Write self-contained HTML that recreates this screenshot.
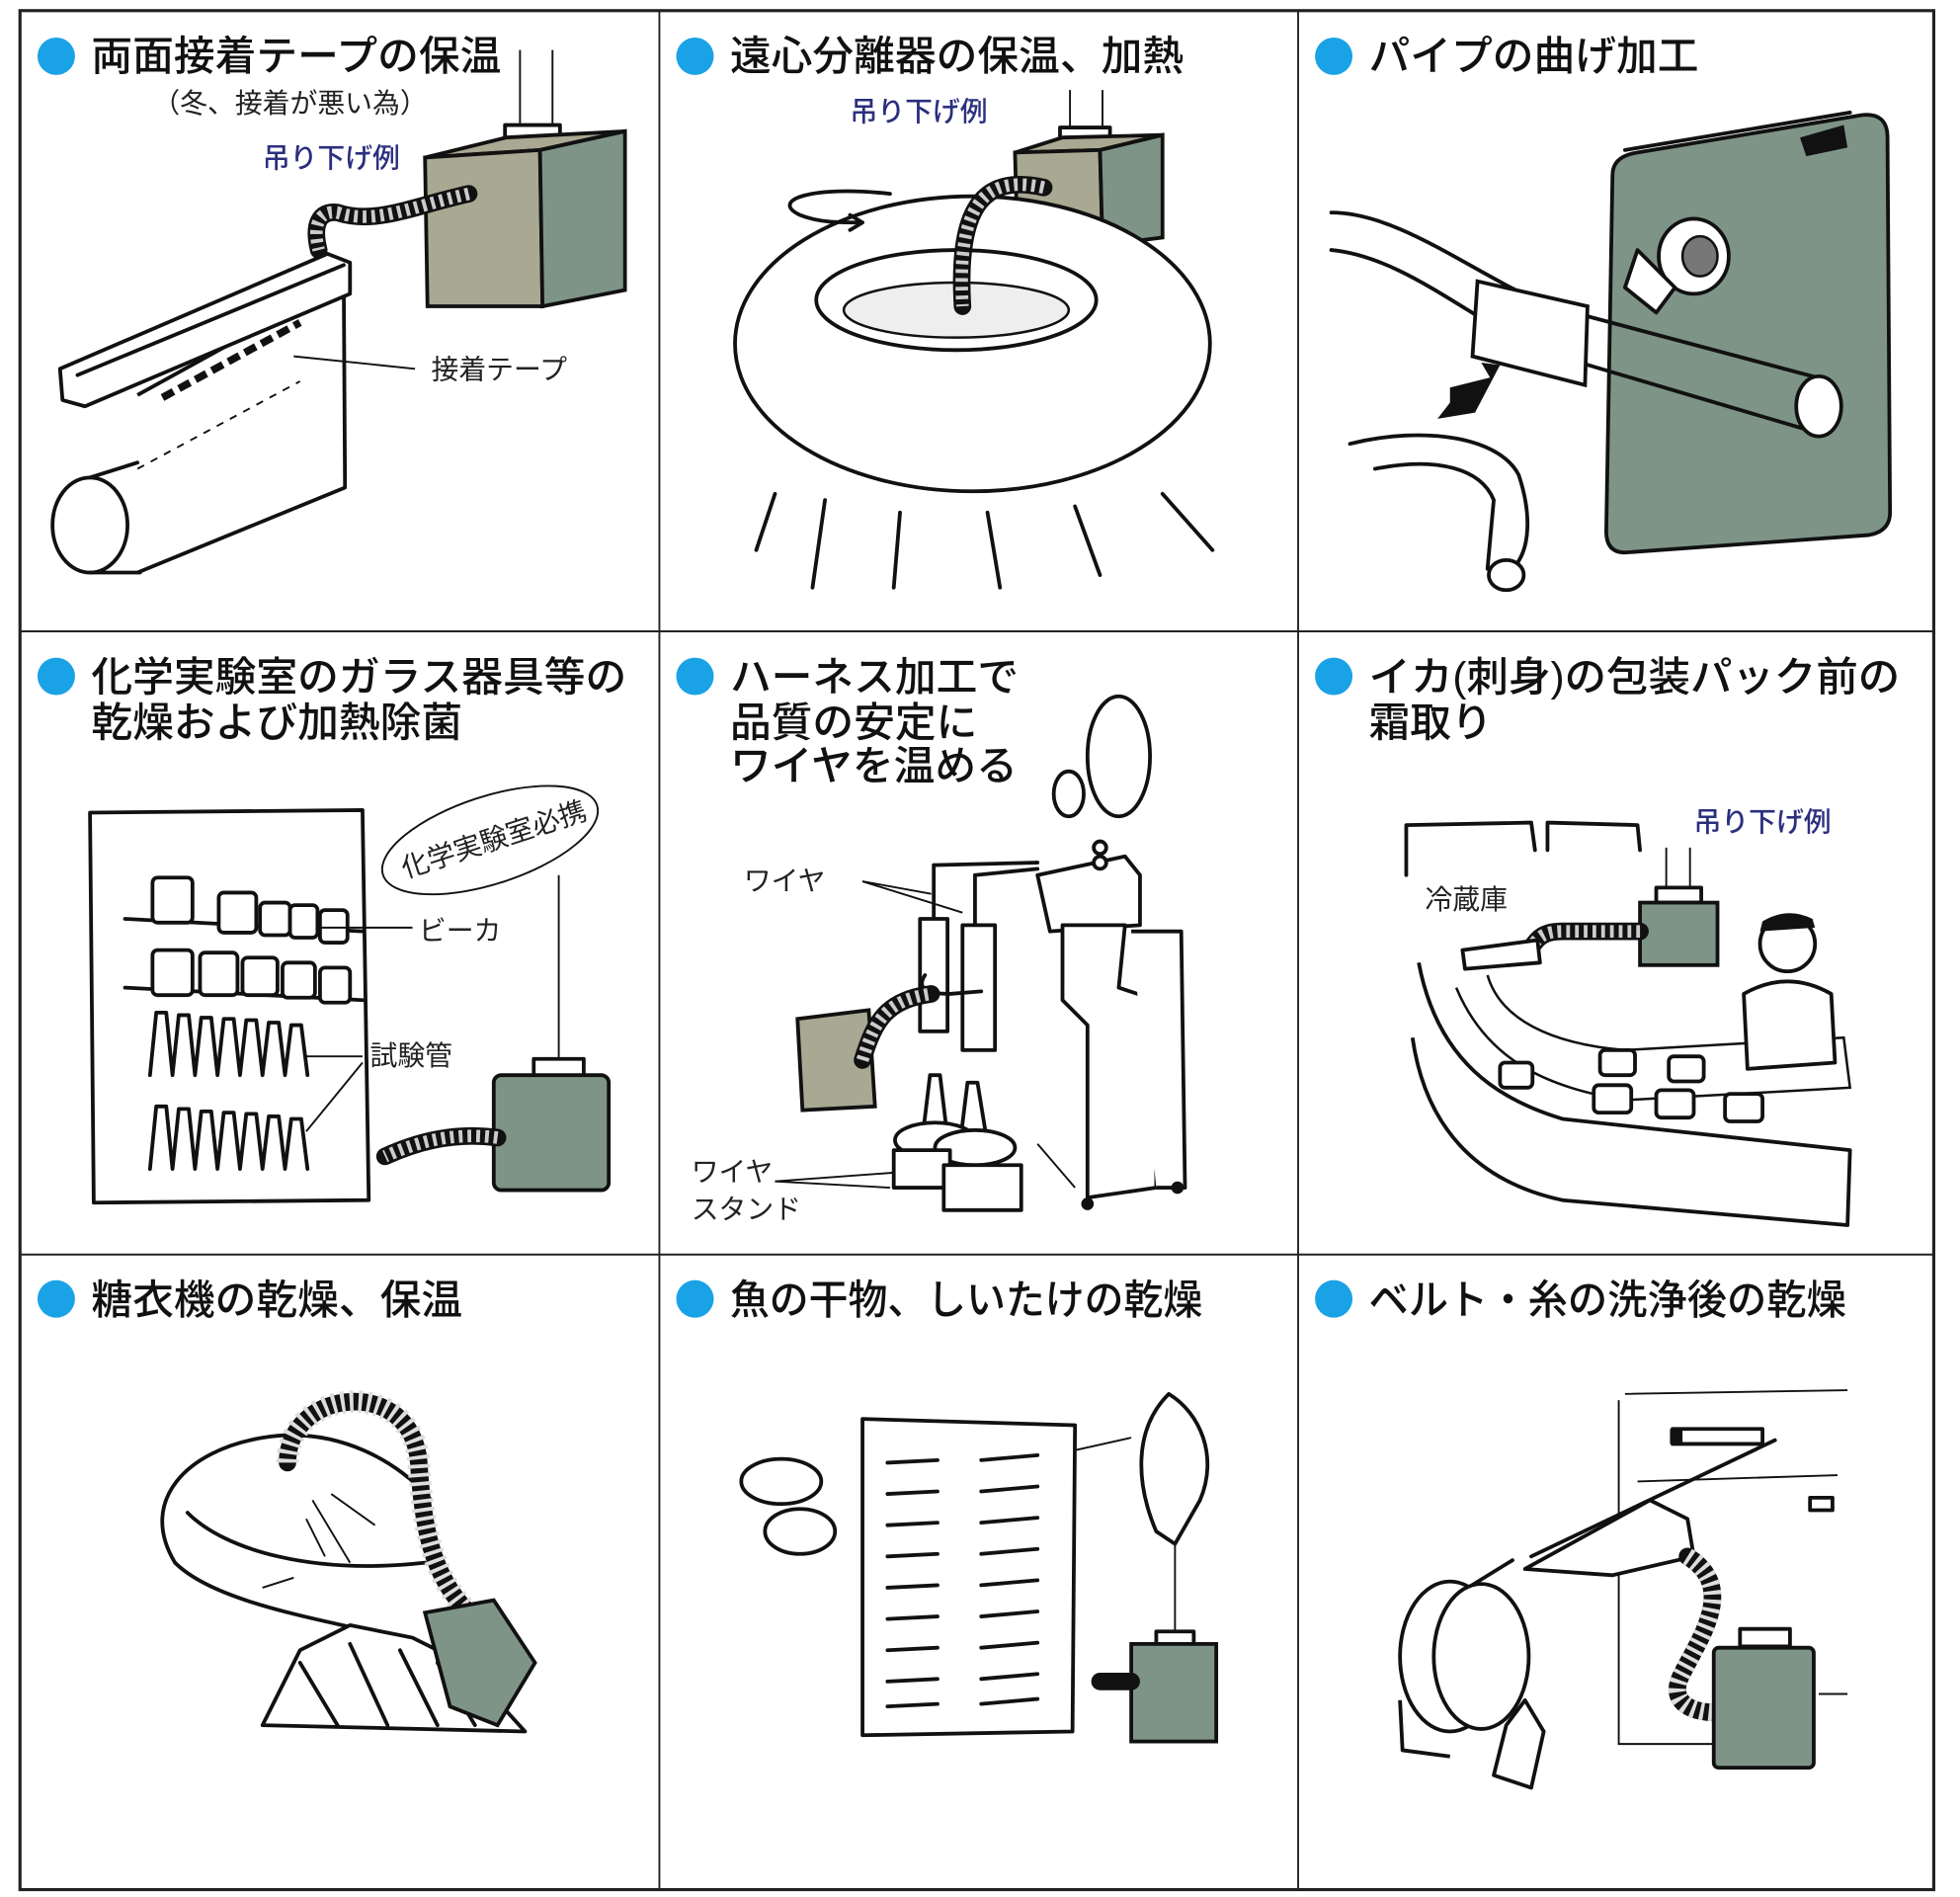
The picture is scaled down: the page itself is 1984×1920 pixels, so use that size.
<!DOCTYPE html>
<html><head><meta charset="utf-8"><style>
html,body{margin:0;padding:0;background:#fff;}
svg{display:block;}
text{font-family:"Liberation Sans","Noto Sans CJK JP",sans-serif;}
.t{font-size:33px;fill:#111;font-weight:500;}
.s{font-size:22px;fill:#222;}
.b{font-size:22px;fill:#2b2f7e;font-weight:500;}
.k{stroke:#111;stroke-width:3;fill:none;stroke-linejoin:round;stroke-linecap:round;}
.kw{stroke:#111;stroke-width:3;fill:#fff;stroke-linejoin:round;}
.g{fill:#7e9487;stroke:#111;stroke-width:3;}
.gl{fill:#a9a892;stroke:#111;stroke-width:3;}
.h{stroke:#111;stroke-width:14;fill:none;stroke-linecap:round;}
.hi{stroke:#ccc;stroke-width:10;fill:none;stroke-dasharray:3 4;stroke-linecap:butt;}
.th{stroke:#111;stroke-width:1.5;fill:none;}
</style></head><body>
<svg width="1984" height="1920" viewBox="0 0 1568 1517.4" xmlns="http://www.w3.org/2000/svg">
<rect x="0" y="0" width="1568" height="1518" fill="#fff"/>
<rect x="16" y="8.5" width="1531" height="1503" fill="none" stroke="#222" stroke-width="2.5"/>
<line x1="527.5" y1="8" x2="527.5" y2="1512" stroke="#222" stroke-width="1.5"/>
<line x1="1038.5" y1="8" x2="1038.5" y2="1512" stroke="#222" stroke-width="1.5"/>
<line x1="16" y1="505" x2="1547" y2="505" stroke="#222" stroke-width="1.5"/>
<line x1="16" y1="1003.5" x2="1547" y2="1003.5" stroke="#222" stroke-width="1.5"/>

<g fill="#1aa2e6">
<circle cx="45" cy="45" r="15"/><circle cx="556" cy="45" r="15"/><circle cx="1067" cy="45" r="15"/>
<circle cx="45" cy="541" r="15"/><circle cx="556" cy="541" r="15"/><circle cx="1067" cy="541" r="15"/>
<circle cx="45" cy="1039" r="15"/><circle cx="556" cy="1039" r="15"/><circle cx="1067" cy="1039" r="15"/>
</g>
<text class="t" x="73" y="56">両面接着テープの保温</text>
<text class="s" x="122" y="90">（冬、接着が悪い為）</text>
<text class="t" x="584" y="56">遠心分離器の保温、加熱</text>
<text class="t" x="1095" y="56">パイプの曲げ加工</text>
<text class="t" x="73" y="553">化学実験室のガラス器具等の</text>
<text class="t" x="73" y="589">乾燥および加熱除菌</text>
<text class="t" x="584" y="553">ハーネス加工で</text>
<text class="t" x="584" y="589">品質の安定に</text>
<text class="t" x="584" y="624">ワイヤを温める</text>
<text class="t" x="1095" y="553" textLength="425" lengthAdjust="spacingAndGlyphs">イカ(刺身)の包装パック前の</text>
<text class="t" x="1095" y="589">霜取り</text>
<text class="t" x="73" y="1051">糖衣機の乾燥、保温</text>
<text class="t" x="584" y="1051" textLength="378" lengthAdjust="spacingAndGlyphs">魚の干物、しいたけの乾燥</text>
<text class="t" x="1095" y="1051" textLength="382" lengthAdjust="spacingAndGlyphs">ベルト・糸の洗浄後の乾燥</text>

<!-- cell 1 -->
<text class="b" x="210" y="134">吊り下げ例</text>
<line x1="416" y1="40" x2="416" y2="102" class="th" stroke-width="2"/><line x1="442" y1="40" x2="442" y2="102" class="th" stroke-width="2"/>
<rect x="404" y="100" width="44" height="12" class="kw" stroke-width="2"/>
<polygon points="340,126 405,110 500,105 432,120" class="gl"/>
<polygon points="340,126 432,120 434,245 342,245" class="gl"/>
<polygon points="432,120 500,105 500,232 434,245" class="g"/>
<path d="M375,155 C330,165 300,180 270,170 C255,168 250,180 255,200" class="h"/>
<path d="M375,155 C330,165 300,180 270,170 C255,168 250,180 255,200" class="hi"/>
<path d="M110,316 L275,225 L276,390 L110,458" class="kw"/>
<polygon points="48,295 262,203 280,210 280,235 68,325 50,320" class="kw"/>
<line x1="62" y1="300" x2="275" y2="212" class="k"/>
<path d="M130,318 L240,258" stroke="#111" stroke-width="6" stroke-dasharray="10 5" fill="none"/>
<path d="M110,375 L240,305" class="th" stroke-dasharray="6 6"/>
<ellipse cx="72" cy="420" rx="30" ry="38" class="kw"/>
<line x1="72" y1="382" x2="110" y2="370" class="k"/><line x1="72" y1="458" x2="112" y2="458" class="k"/>
<line x1="235" y1="285" x2="332" y2="295" class="th"/>
<text class="s" x="345" y="303">接着テープ</text>

<!-- cell 2 -->
<text class="b" x="680" y="97">吊り下げ例</text>
<line x1="856" y1="72" x2="856" y2="105" class="th" stroke-width="2"/><line x1="882" y1="72" x2="882" y2="105" class="th" stroke-width="2"/>
<rect x="848" y="102" width="40" height="10" class="kw" stroke-width="2"/>
<polygon points="812,122 850,110 930,108 880,120" class="gl"/>
<polygon points="812,122 880,120 882,196 814,196" class="gl"/>
<polygon points="880,120 930,108 930,190 882,196" class="g"/>
<ellipse cx="778" cy="275" rx="190" ry="118" class="kw"/>
<ellipse cx="765" cy="240" rx="112" ry="40" class="kw"/>
<ellipse cx="765" cy="248" rx="90" ry="22" fill="#eee" stroke="#111" stroke-width="2"/>
<path d="M835,150 C790,140 765,160 770,245" class="h"/>
<path d="M835,150 C790,140 765,160 770,245" class="hi"/>
<path d="M620,395 L605,440 M660,400 L650,470 M720,410 L715,470 M790,410 L800,470 M860,405 L880,460 M930,395 L970,440" class="k"/>
<path d="M712,155 C650,148 615,160 640,172 C655,178 670,178 688,178" class="k" stroke-width="2"/>
<path d="M680,172 L690,178 L680,184" class="k" stroke-width="2"/>

<!-- cell 3 -->
<path d="M1290,140 Q1290,125 1310,122 L1490,92 Q1510,90 1510,110 L1512,410 Q1512,425 1495,428 L1300,442 Q1285,442 1285,425 Z" class="g"/>
<path d="M1300,120 L1480,90" class="k"/>
<path d="M1440,110 L1475,100 L1478,118 L1445,125Z" fill="#111"/>
<path d="M1065,170 C1120,170 1180,220 1240,245 L1465,305" class="k"/>
<path d="M1065,200 C1120,205 1170,250 1230,280 L1450,345" class="k"/>
<ellipse cx="1455" cy="325" rx="18" ry="24" class="kw"/>
<polygon points="1182,225 1270,245 1268,308 1178,285" fill="#fff" stroke="#111" stroke-width="3"/>
<ellipse cx="1355" cy="205" rx="28" ry="30" class="kw"/>
<ellipse cx="1360" cy="205" rx="14" ry="16" fill="#777" stroke="#111" stroke-width="2"/>
<path d="M1310,200 L1340,230 L1325,250 L1300,230Z" class="kw"/>
<path d="M1080,355 C1140,340 1200,350 1215,380 C1225,410 1225,440 1210,455" class="k"/>
<path d="M1100,375 C1150,365 1185,375 1195,400 L1190,455" class="k"/>
<ellipse cx="1205" cy="460" rx="14" ry="12" class="kw"/>
<polygon points="1160,310 1192,302 1185,290 1200,292 1180,330 1150,335 1160,322" fill="#111"/>

<!-- cell 4 -->
<path d="M72,650 L290,648 L295,960 L75,962 Z" class="k"/>
<path d="M100,735 L290,745 M100,790 L290,800" class="k"/>
<g class="kw"><rect x="122" y="702" width="32" height="36" rx="4"/><rect x="175" y="714" width="30" height="32" rx="4"/><rect x="208" y="722" width="24" height="26" rx="4"/><rect x="232" y="724" width="22" height="26" rx="4"/><rect x="256" y="728" width="22" height="26" rx="4"/>
<rect x="122" y="760" width="32" height="36" rx="4"/><rect x="160" y="762" width="30" height="34" rx="4"/><rect x="194" y="766" width="28" height="30" rx="4"/><rect x="226" y="770" width="26" height="28" rx="4"/><rect x="256" y="774" width="24" height="28" rx="4"/></g>
<path d="M120,860 l5,-50 l8,0 l5,50 l5,-48 l8,0 l5,48 l5,-46 l8,0 l5,46 l5,-45 l8,0 l5,45 l5,-44 l8,0 l5,44 l5,-42 l8,0 l5,42 l5,-40 l8,0 l5,40" class="k"/>
<path d="M120,935 l5,-50 l8,0 l5,50 l5,-48 l8,0 l5,48 l5,-46 l8,0 l5,46 l5,-45 l8,0 l5,45 l5,-44 l8,0 l5,44 l5,-42 l8,0 l5,42 l5,-40 l8,0 l5,40" class="k"/>
<line x1="255" y1="742" x2="330" y2="742" class="th"/>
<text class="s" x="335" y="752">ビーカ</text>
<line x1="245" y1="845" x2="290" y2="845" class="th"/><line x1="245" y1="905" x2="290" y2="850" class="th"/>
<text class="s" x="296" y="852">試験管</text>
<ellipse cx="392" cy="672" rx="90" ry="35" transform="rotate(-18 392 672)" fill="none" stroke="#111" stroke-width="1.5"/>
<text class="s" x="318" y="680" transform="rotate(-18 392 672)">化学実験室必携</text>
<line x1="447" y1="700" x2="447" y2="850" class="th"/>
<rect x="427" y="847" width="40" height="14" class="kw" stroke-width="2"/>
<rect x="395" y="860" width="92" height="92" rx="6" class="g"/>
<path d="M398,910 C360,905 330,915 308,925" class="h"/>
<path d="M398,910 C360,905 330,915 308,925" class="hi"/>

<!-- cell 5 -->
<ellipse cx="895" cy="605" rx="25" ry="48" class="kw"/>
<ellipse cx="855" cy="635" rx="12" ry="18" class="kw"/>
<path d="M830,700 L900,685 L912,700 L912,740 L840,745 Z" class="kw"/>
<path d="M850,740 L900,740 L895,790 L925,800 L925,950 L870,958 L870,820 L850,800Z" class="kw"/>
<path d="M905,745 L945,745 L948,950 L925,950" class="kw"/>
<circle cx="880" cy="678" r="5" class="kw" stroke-width="2"/><circle cx="880" cy="690" r="5" class="kw" stroke-width="2"/>
<circle cx="870" cy="963" r="5" fill="#111"/><circle cx="942" cy="950" r="5" fill="#111"/>
<path d="M747,692 L830,690 M780,700 L830,695" class="k" stroke-width="2"/>
<path d="M747,692 L747,735 M780,700 L780,740" class="k" stroke-width="2"/>
<rect x="736" y="735" width="22" height="90" class="kw"/><rect x="770" y="740" width="26" height="100" class="kw"/>
<path d="M740,780 Q730,795 760,795 L785,793" class="k" stroke-width="8"/>
<polygon points="744,860 752,860 758,910 738,910" class="kw"/>
<polygon points="774,866 782,866 790,915 768,915" class="kw"/>
<ellipse cx="748" cy="912" rx="32" ry="14" class="kw"/><ellipse cx="780" cy="918" rx="32" ry="14" class="kw"/>
<rect x="715" y="920" width="45" height="30" class="kw"/><rect x="755" y="932" width="62" height="36" class="kw"/>
<polygon points="638,815 695,808 700,885 642,888" class="gl"/>
<path d="M690,848 C700,815 710,800 745,795" class="h"/>
<path d="M690,848 C700,815 710,800 745,795" class="hi"/>
<text class="s" x="595" y="712">ワイヤ</text>
<line x1="690" y1="705" x2="745" y2="715" class="th"/><line x1="690" y1="705" x2="770" y2="730" class="th"/>
<text class="s" x="553" y="945">ワイヤ</text><text class="s" x="553" y="975">スタンド</text>
<line x1="620" y1="945" x2="715" y2="938" class="th"/><line x1="620" y1="945" x2="712" y2="950" class="th"/>
<line x1="830" y1="915" x2="860" y2="950" class="th"/>

<!-- cell 6 -->
<text class="b" x="1355" y="665">吊り下げ例</text>
<path d="M1125,700 L1125,660 L1225,658 L1228,680 M1238,680 L1238,658 L1310,660 L1312,680" class="k" stroke-width="2"/>
<text class="s" x="1140" y="727">冷蔵庫</text>
<line x1="1333" y1="678" x2="1333" y2="712" class="th" stroke-width="2"/><line x1="1352" y1="678" x2="1352" y2="712" class="th" stroke-width="2"/>
<rect x="1325" y="710" width="36" height="12" class="kw" stroke-width="2"/>
<rect x="1312" y="722" width="62" height="50" class="g"/>
<path d="M1312,745 L1250,745 C1235,745 1230,750 1225,758" class="h"/>
<path d="M1312,745 L1250,745 C1235,745 1230,750 1225,758" class="hi"/>
<path d="M1170,760 L1230,752 L1232,770 L1172,775Z" class="kw"/>
<path d="M1135,770 C1150,850 1200,880 1250,895 L1480,920 L1478,980 L1250,960 C1180,945 1140,900 1130,830" class="kw"/>
<path d="M1165,790 C1190,850 1240,870 1300,880 L1480,870 L1475,830 L1300,840 C1240,835 1200,815 1190,780" fill="none" stroke="#111" stroke-width="2"/>
<g class="kw" stroke-width="2"><rect x="1275" y="868" width="30" height="22" rx="4"/><rect x="1325" y="872" width="30" height="22" rx="4"/><rect x="1380" y="875" width="30" height="22" rx="4"/><rect x="1280" y="840" width="28" height="20" rx="4"/><rect x="1335" y="845" width="28" height="20" rx="4"/><rect x="1200" y="850" width="26" height="20" rx="4"/></g>
<circle cx="1430" cy="755" r="22" class="kw"/>
<path d="M1408,745 L1452,742 L1450,735 Q1430,725 1410,737Z" fill="#111"/>
<path d="M1395,795 Q1430,775 1465,795 L1468,850 L1398,855Z" class="kw"/>

<!-- cell 7 -->
<path d="M350,1320 C300,1300 180,1290 140,1250 C110,1200 150,1160 210,1150 C270,1140 320,1170 345,1200" class="kw"/>
<path d="M150,1210 C180,1240 250,1260 340,1250" class="k" stroke-width="2"/>
<path d="M230,1170 C230,1110 330,1100 335,1170 C338,1220 345,1260 375,1290" class="h" stroke-width="26"/>
<path d="M230,1170 C230,1110 330,1100 335,1170 C338,1220 345,1260 375,1290" stroke="#ddd" stroke-width="18" fill="none" stroke-dasharray="3 4"/>
<path d="M210,1380 L240,1320 L280,1300 L330,1310 L370,1330 L420,1385 Z" class="kw"/>
<path d="M240,1330 L270,1380 M280,1315 L310,1380 M320,1320 L350,1380 M350,1330 L380,1380" class="k" stroke-width="2"/>
<polygon points="340,1290 395,1280 428,1330 398,1380 360,1365" class="g"/>
<path d="M250,1200 L280,1250 M265,1195 L300,1220 M245,1215 L260,1245 M210,1270 L235,1262" class="th"/>

<!-- cell 8 -->
<polygon points="690,1135 860,1140 858,1385 690,1388" class="kw" stroke-width="2"/>
<g class="k" stroke-width="4">
<path d="M710,1170 l40,-2 M785,1168 l45,-4 M710,1195 l40,-2 M785,1193 l45,-4 M710,1220 l40,-2 M785,1218 l45,-4 M710,1245 l40,-2 M785,1243 l45,-4 M710,1270 l40,-2 M785,1268 l45,-4 M710,1295 l40,-2 M785,1293 l45,-4 M710,1320 l40,-2 M785,1318 l45,-4 M710,1345 l40,-2 M785,1343 l45,-4 M710,1365 l40,-2 M785,1363 l45,-4"/></g>
<ellipse cx="625" cy="1185" rx="32" ry="18" class="kw"/>
<ellipse cx="640" cy="1225" rx="28" ry="18" class="kw"/>
<path d="M935,1115 C960,1130 975,1165 960,1200 L940,1235 L925,1225 C910,1190 905,1145 935,1115Z" class="kw"/>
<line x1="940" y1="1235" x2="940" y2="1305" class="th" stroke-width="2"/>
<line x1="860" y1="1160" x2="905" y2="1150" class="th"/>
<rect x="925" y="1305" width="30" height="12" class="kw" stroke-width="2"/>
<rect x="905" y="1315" width="68" height="78" class="g"/>
<path d="M905,1345 L880,1345" class="h" stroke-width="10"/>

<!-- cell 9 -->
<path d="M1300,1115 L1478,1112 M1295,1120 L1295,1395 L1380,1395 M1310,1185 L1470,1180 M1455,1355 L1478,1355" class="th"/>
<rect x="1338" y="1143" width="72" height="12" class="kw" stroke-width="2"/>
<rect x="1336" y="1143" width="10" height="12" fill="#111"/>
<rect x="1448" y="1198" width="18" height="10" class="kw" stroke-width="2"/>
<path d="M1420,1152 L1225,1245" class="k" stroke-width="6"/>
<path d="M1220,1255 L1320,1200 L1350,1215 L1355,1245 L1290,1260 Z" class="kw"/>
<path d="M1210,1248 L1150,1285" class="k" stroke-width="6"/>
<ellipse cx="1160" cy="1325" rx="40" ry="60" class="kw"/>
<ellipse cx="1185" cy="1325" rx="38" ry="58" class="kw"/>
<path d="M1120,1360 L1122,1400 L1160,1405 M1205,1380 L1195,1420 L1225,1430 L1235,1385 L1220,1360Z" class="kw"/>
<path d="M1350,1245 C1390,1270 1360,1310 1345,1340 C1335,1360 1350,1370 1375,1370" class="h" stroke-width="22"/>
<path d="M1350,1245 C1390,1270 1360,1310 1345,1340 C1335,1360 1350,1370 1375,1370" stroke="#ddd" stroke-width="14" fill="none" stroke-dasharray="3 4"/>
<rect x="1392" y="1303" width="40" height="14" class="kw" stroke-width="2"/>
<rect x="1371" y="1318" width="80" height="96" rx="4" class="g"/>
</svg>
</body></html>
